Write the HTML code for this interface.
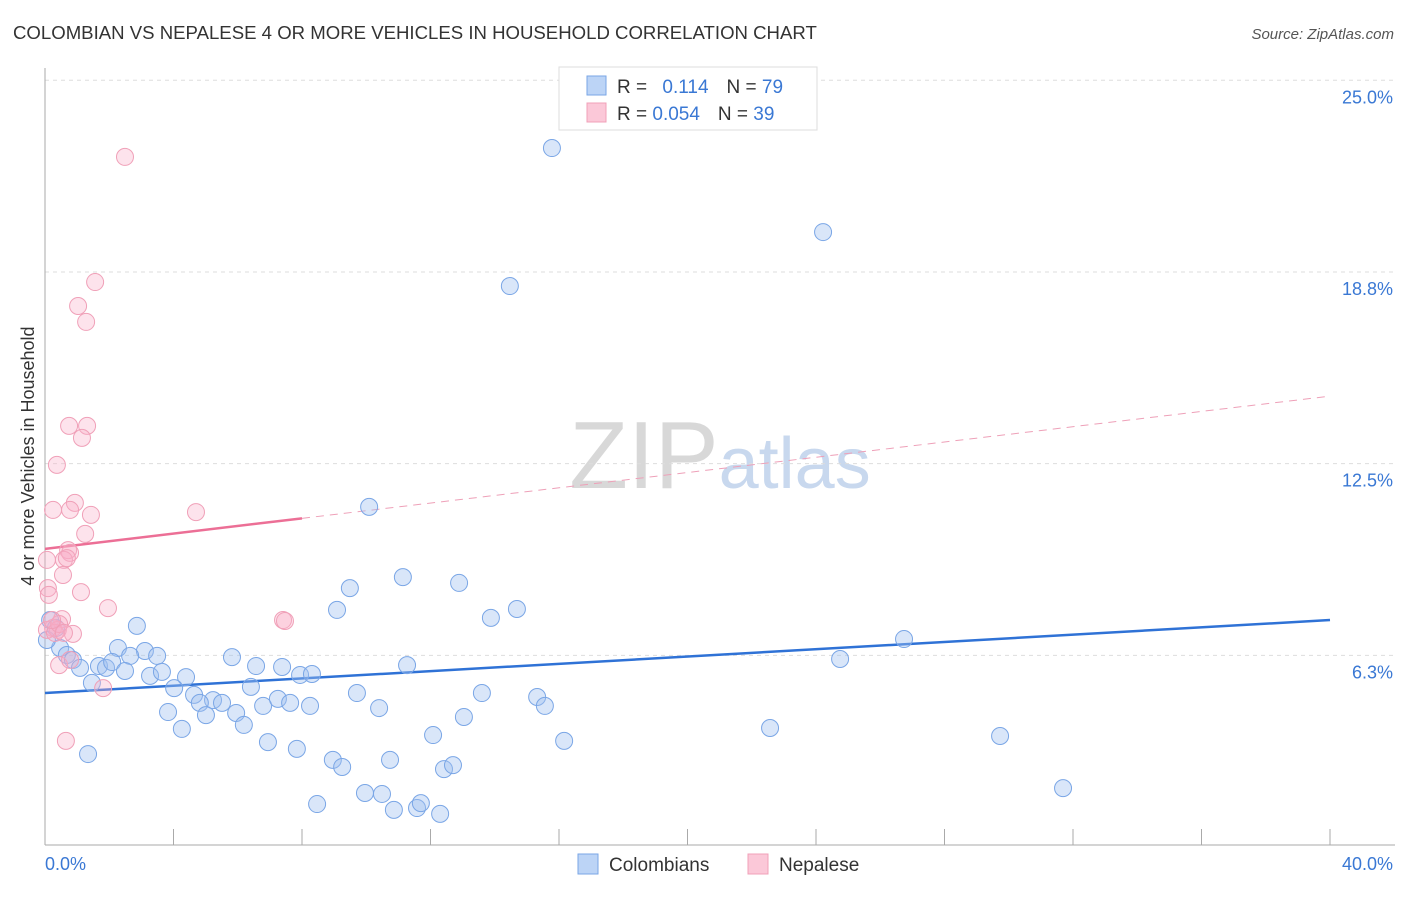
<!DOCTYPE html>
<html><head><meta charset="utf-8"><style>
body{margin:0;background:#fff;font-family:"Liberation Sans",sans-serif;}
svg text{font-family:"Liberation Sans",sans-serif;}
</style></head><body>
<svg id="chart" width="1406" height="892" viewBox="0 0 1406 892" xmlns="http://www.w3.org/2000/svg">
<text x="13" y="39" font-size="18.6" fill="#333">COLOMBIAN VS NEPALESE 4 OR MORE VEHICLES IN HOUSEHOLD CORRELATION CHART</text>
<text x="1394" y="39" font-size="15" fill="#555" text-anchor="end" font-style="italic">Source: ZipAtlas.com</text>
<text x="720" y="488" font-size="96" text-anchor="middle" fill="#ddd" font-family="Liberation Serif"><tspan fill="#d8d8d8">ZIP</tspan><tspan fill="#c8d8ee" font-family="Liberation Sans" font-size="72">atlas</tspan></text>
<text transform="translate(34,456) rotate(-90)" font-size="18" fill="#333" text-anchor="middle">4 or more Vehicles in Household</text>
<g id="grid"></g><g id="axes"></g><g id="trend"></g><g id="pts"></g>
<g>
<rect x="559" y="67" width="258" height="63" fill="#fff" stroke="#ddd"/>
<rect x="587" y="76" width="19" height="19" fill="#bcd4f6" stroke="#7aa6e6"/>
<rect x="587" y="103" width="19" height="19" fill="#fbc8d8" stroke="#f0a0b8"/>
<text x="617" y="93" font-size="19" fill="#333">R = <tspan fill="#3a78d4" dx="10">0.114</tspan><tspan dx="18">N = </tspan><tspan fill="#3a78d4">79</tspan></text>
<text x="617" y="120" font-size="19" fill="#333">R = <tspan fill="#3a78d4">0.054</tspan><tspan dx="18">N = </tspan><tspan fill="#3a78d4">39</tspan></text>
</g>
<g>
<rect x="578" y="854" width="20" height="20" fill="#bcd4f6" stroke="#7aa6e6"/>
<text x="609" y="871" font-size="19" fill="#333">Colombians</text>
<rect x="748" y="854" width="20" height="20" fill="#fbc8d8" stroke="#f0a0b8"/>
<text x="779" y="871" font-size="19" fill="#333">Nepalese</text>
</g>
</svg>
<script>
const blueX=[15.78,24.22,14.47,10.09,11.14,9.49,12.89,9.09,13.88,14.69,2.86,26.74,24.75,2.27,3.11,3.49,2.65,0.47,0.68,0.87,1.09,1.68,1.90,2.09,2.49,3.27,3.64,4.39,5.82,6.57,7.38,7.94,8.31,11.27,4.02,4.64,5.23,4.82,5.51,6.41,6.79,7.25,7.63,8.25,9.71,10.40,13.60,15.32,15.56,3.83,5.01,5.95,4.26,6.19,6.94,7.84,8.96,9.25,10.74,12.08,13.04,16.16,22.57,29.73,31.69,1.34,12.42,12.70,8.47,9.96,10.49,10.86,11.58,11.70,12.30,1.46,0.16,0.34,0.06];
const blueY=[22.79,20.05,18.29,11.09,8.80,8.44,8.61,7.73,7.47,7.76,7.21,6.78,6.13,6.49,6.39,6.23,6.23,6.49,6.26,6.10,5.84,5.90,5.84,6.03,5.74,5.58,5.71,5.54,6.19,5.90,5.87,5.61,5.64,5.93,5.18,4.96,4.79,4.70,4.70,5.22,4.60,4.83,4.70,4.60,5.02,4.53,5.02,4.89,4.60,4.40,4.30,4.37,3.85,3.98,3.42,3.20,2.84,2.61,2.84,3.65,4.24,3.46,3.88,3.62,1.92,3.03,2.54,2.67,1.40,1.76,1.73,1.21,1.27,1.43,1.08,5.35,7.40,7.14,6.75];
const pinkX=[2.49,1.56,1.03,1.28,0.75,1.31,1.15,0.37,0.93,0.25,0.78,1.43,4.70,1.25,0.72,0.78,0.59,0.68,0.06,0.56,1.12,0.09,0.12,1.96,0.53,7.41,7.47,0.25,0.40,0.87,0.06,0.31,1.81,0.65,0.44,0.44,0.22,0.59,0.78];
const pinkY=[22.50,18.42,17.64,17.12,13.73,13.73,13.34,12.46,11.22,10.99,10.99,10.83,10.92,10.21,9.68,9.59,9.36,9.42,9.36,8.87,8.31,8.44,8.22,7.79,7.43,7.40,7.37,7.14,7.08,6.95,7.08,6.98,5.18,3.46,5.93,7.27,7.40,6.98,6.10];
const yTicks=[25,18.75,12.5,6.25];
const yTickLabels=["25.0%","18.8%","12.5%","6.3%"];
const xTicks=[0,4,8,12,16,20,24,28,32,36,40];
const blueTrend=[5.02,7.40];
const pinkTrend=[9.72,14.70];
const pinkSolidEnd=8;

const NS="http://www.w3.org/2000/svg";
const X=v=>45+v*32.125, Y=v=>847-v*30.67;
function mk(t,a,p){const e=document.createElementNS(NS,t);for(const k in a)e.setAttribute(k,a[k]);p.appendChild(e);return e;}
const grid=document.getElementById('grid'),axes=document.getElementById('axes'),tr=document.getElementById('trend'),pts=document.getElementById('pts');
yTicks.forEach((v,i)=>{
 const l=mk('line',{x1:45,x2:1395,y1:Y(v),y2:Y(v),stroke:'#ddd','stroke-dasharray':'4,4'},grid);
 
 
 const t=mk('text',{x:1393,y:Y(v)+23,'font-size':18,fill:'#3a78d4','text-anchor':'end'},grid);
 t.textContent=yTickLabels[i];
 
 
});
const ax=mk('line',{x1:45,x2:1395,y1:845,y2:845,stroke:'#aaa'},axes);


const ay=mk('line',{x1:45,x2:45,y1:68,y2:845,stroke:'#aaa'},axes);


xTicks.forEach(v=>{
 const l=mk('line',{x1:X(v),x2:X(v),y1:829,y2:845,stroke:'#aaa'},axes);
 
 
});
const xl0=mk('text',{x:45,y:870,'font-size':18,fill:'#3a78d4'},axes);xl0.textContent="0.0%";


const xl1=mk('text',{x:1393,y:870,'font-size':18,fill:'#3a78d4','text-anchor':'end'},axes);xl1.textContent="40.0%";


blueX.forEach((x,i)=>{
 const c=mk('circle',{cx:X(x),cy:Y(blueY[i]),r:8.5,fill:'rgba(160,192,240,0.4)',stroke:'#7aa6e6','stroke-width':1},pts);
 
 
});
pinkX.forEach((x,i)=>{
 const c=mk('circle',{cx:X(x),cy:Y(pinkY[i]),r:8.5,fill:'rgba(248,175,200,0.35)',stroke:'#f0a0b8','stroke-width':1},pts);
 
 
});
const pAt=x=>pinkTrend[0]+(pinkTrend[1]-pinkTrend[0])*x/40;
const bt=mk('line',{x1:X(0),y1:Y(blueTrend[0]),x2:X(40),y2:Y(blueTrend[1]),stroke:'#2f72d6','stroke-width':2.5},tr);


const pt=mk('line',{x1:X(0),y1:Y(pAt(0)),x2:X(pinkSolidEnd),y2:Y(pAt(pinkSolidEnd)),stroke:'#ec6f96','stroke-width':2.5},tr);


const pd=mk('line',{x1:X(pinkSolidEnd),y1:Y(pAt(pinkSolidEnd)),x2:X(40),y2:Y(pAt(40)),stroke:'#eea0b8','stroke-width':1,'stroke-dasharray':'8,6'},tr);


</script>
</body></html>
